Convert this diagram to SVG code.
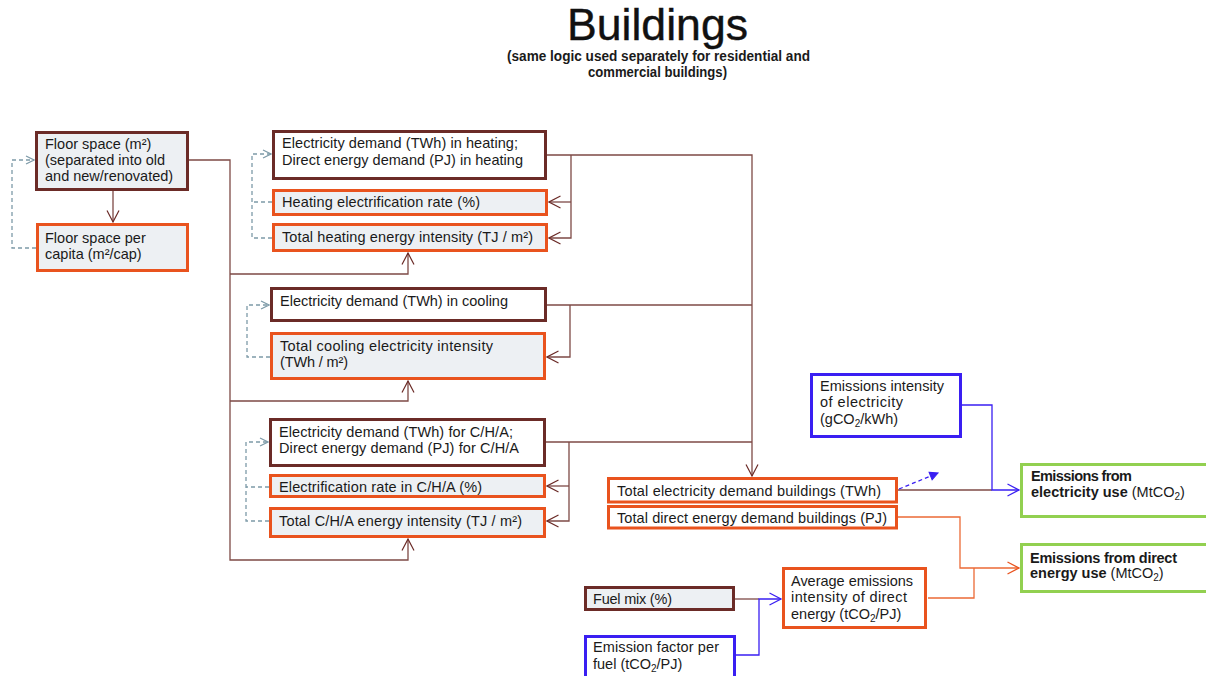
<svg xmlns="http://www.w3.org/2000/svg" width="1206" height="676" viewBox="0 0 1206 676">
<style>
.t{font-family:"Liberation Sans",Arial,sans-serif;font-size:14.5px;fill:#1a1a1a}
.b{font-weight:bold}
.bx{stroke-width:3}
.br{stroke:#6b2b27}
.or{stroke:#e9531e}
.bl{stroke:#3a1ff2}
.gr{stroke:#92d050}
.gy{fill:#edf0f3}
.wh{fill:#ffffff}
.c{fill:none;stroke-width:1.3}
.cb{stroke:#7e4a46}
.cd{stroke:#7d9aa8;stroke-dasharray:4 3}
.cbl{stroke:#3a1ff2}
.co{stroke:#ec6a36}
</style>
<defs>
<marker id="ab" viewBox="0 0 14 14" refX="12.5" refY="7" markerWidth="14" markerHeight="14" markerUnits="userSpaceOnUse" orient="auto"><path d="M1,1 L12.5,7 L1,13" fill="none" stroke="#6b2b27" stroke-width="1.2"/></marker>
<marker id="ag" viewBox="0 0 10 10" refX="9" refY="5" markerWidth="10" markerHeight="10" markerUnits="userSpaceOnUse" orient="auto"><path d="M1,1 L9,5 L1,9" fill="none" stroke="#7d9aa8" stroke-width="1.2"/></marker>
<marker id="abl" viewBox="0 0 14 14" refX="12.5" refY="7" markerWidth="14" markerHeight="14" markerUnits="userSpaceOnUse" orient="auto"><path d="M1,1 L12.5,7 L1,13" fill="none" stroke="#3a1ff2" stroke-width="1.3"/></marker>
<marker id="abs" viewBox="0 0 10 10" refX="9" refY="5" markerWidth="10" markerHeight="10" markerUnits="userSpaceOnUse" orient="auto"><path d="M1,1 L9,5 L1,9 Z" fill="#3a1ff2" stroke="#3a1ff2" stroke-width="1"/></marker>
<marker id="ao" viewBox="0 0 14 14" refX="12.5" refY="7" markerWidth="14" markerHeight="14" markerUnits="userSpaceOnUse" orient="auto"><path d="M1,1 L12.5,7 L1,13" fill="none" stroke="#e9531e" stroke-width="1.3"/></marker>
</defs>

<g id="title">
<text x="657.5" y="40" text-anchor="middle" style="font-family:'Liberation Sans',Arial,sans-serif;font-size:44px;fill:#111;stroke:#111;stroke-width:0.4" textLength="181" lengthAdjust="spacingAndGlyphs">Buildings</text>
<text x="658.5" y="61" text-anchor="middle" class="t b" style="font-size:14.5px" textLength="303" lengthAdjust="spacingAndGlyphs">(same logic used separately for residential and</text>
<text x="657.5" y="77" text-anchor="middle" class="t b" style="font-size:14.5px" textLength="139" lengthAdjust="spacingAndGlyphs">commercial buildings)</text>
</g>

<g id="connectors">
<path class="c cb" d="M113,191 V222" marker-end="url(#ab)"/>
<path class="c cd" d="M36,248 H12 V160 H34" marker-end="url(#ag)"/>
<path class="c cb" d="M189,160 H230 V560 H408 V539" marker-end="url(#ab)"/>
<path class="c cb" d="M230,274 H408 V253" marker-end="url(#ab)"/>
<path class="c cb" d="M230,401 H408 V381" marker-end="url(#ab)"/>
<path class="c cd" d="M272,238 H252 V154 H271" marker-end="url(#ag)"/>
<path class="c cd" d="M272,202 H252"/>
<path class="c cb" d="M547,155 H752 V476" marker-end="url(#ab)"/>
<path class="c cb" d="M571,155 V238 H549" marker-end="url(#ab)"/>
<path class="c cb" d="M571,202 H549" marker-end="url(#ab)"/>
<path class="c cd" d="M270,357 H247 V305 H269" marker-end="url(#ag)"/>
<path class="c cb" d="M547,305 H752"/>
<path class="c cb" d="M570,305 V357 H547" marker-end="url(#ab)"/>
<path class="c cd" d="M269,521 H246 V442 H268" marker-end="url(#ag)"/>
<path class="c cd" d="M269,487 H246"/>
<path class="c cb" d="M546,442 H752"/>
<path class="c cb" d="M569,442 V521 H547" marker-end="url(#ab)"/>
<path class="c cb" d="M569,486 H547" marker-end="url(#ab)"/>
<path class="c cb" d="M898,490 H992"/>
<path class="c cbl" d="M962,405 H992 V490 H1019" marker-end="url(#abl)"/>
<path class="c cbl" d="M899,489 L938,473" stroke-dasharray="4 3" marker-end="url(#abs)"/>
<path class="c co" d="M898,517 H960 V568 H1019" marker-end="url(#ao)"/>
<path class="c co" d="M928,598 H974 V568"/>
<path class="c cb" d="M735,599 H759"/>
<path class="c cbl" d="M736,655 H759 V599 H781" marker-end="url(#abl)"/>
</g>

<g id="floor-space">
<rect class="bx br gy" x="36.5" y="132.5" width="151" height="57"/>
<text class="t" x="45" y="149">Floor space (m²)</text>
<text class="t" x="45" y="165">(separated into old</text>
<text class="t" x="45" y="181">and new/renovated)</text>
</g>
<g id="floor-space-per-capita">
<rect class="bx or gy" x="37.5" y="224.5" width="150" height="46"/>
<text class="t" x="45" y="243">Floor space per</text>
<text class="t" x="45" y="259">capita (m²/cap)</text>
</g>

<g id="heating-demand">
<rect class="bx br wh" x="273.5" y="131.5" width="272" height="47"/>
<text class="t" x="282" y="148" textLength="236" lengthAdjust="spacing">Electricity demand (TWh) in heating;</text>
<text class="t" x="282" y="165" textLength="241" lengthAdjust="spacing">Direct energy demand (PJ) in heating</text>
</g>
<g id="heating-electrification">
<rect class="bx or gy" x="273.5" y="190.5" width="273" height="24"/>
<text class="t" x="282" y="207" textLength="198" lengthAdjust="spacing">Heating electrification rate (%)</text>
</g>
<g id="heating-intensity">
<rect class="bx or gy" x="273.5" y="224.5" width="273" height="26"/>
<text class="t" x="282" y="242" textLength="251" lengthAdjust="spacing">Total heating energy intensity (TJ / m²)</text>
</g>

<g id="cooling-demand">
<rect class="bx br wh" x="271.5" y="288.5" width="274" height="32"/>
<text class="t" x="280" y="306" textLength="228" lengthAdjust="spacing">Electricity demand (TWh) in cooling</text>
</g>
<g id="cooling-intensity">
<rect class="bx or gy" x="271.5" y="333.5" width="273" height="45"/>
<text class="t" x="280" y="351" textLength="213" lengthAdjust="spacing">Total cooling electricity intensity</text>
<text class="t" x="280" y="367" textLength="68" lengthAdjust="spacing">(TWh / m²)</text>
</g>

<g id="cha-demand">
<rect class="bx br wh" x="270.5" y="419.5" width="274" height="46"/>
<text class="t" x="279" y="437" textLength="234" lengthAdjust="spacing">Electricity demand (TWh) for C/H/A;</text>
<text class="t" x="279" y="453" textLength="240" lengthAdjust="spacing">Direct energy demand (PJ) for C/H/A</text>
</g>
<g id="cha-electrification">
<rect class="bx or gy" x="270.5" y="475.5" width="274" height="21"/>
<text class="t" x="279" y="492" textLength="203" lengthAdjust="spacing">Electrification rate in C/H/A (%)</text>
</g>
<g id="cha-intensity">
<rect class="bx or gy" x="270.5" y="508.5" width="274" height="28"/>
<text class="t" x="279" y="526" textLength="243" lengthAdjust="spacing">Total C/H/A energy intensity (TJ / m²)</text>
</g>

<g id="total-electricity">
<rect class="bx or wh" x="608.5" y="478.5" width="288" height="23.5"/>
<text class="t" x="617" y="496" textLength="264" lengthAdjust="spacing">Total electricity demand buildings (TWh)</text>
</g>
<g id="total-direct">
<rect class="bx or wh" x="608.5" y="506.5" width="288" height="21.5"/>
<text class="t" x="617" y="523" textLength="270" lengthAdjust="spacing">Total direct energy demand buildings (PJ)</text>
</g>

<g id="emissions-intensity-electricity">
<rect class="bx bl wh" x="811.5" y="374.5" width="149" height="62"/>
<text class="t" x="820" y="391" textLength="124" lengthAdjust="spacing">Emissions intensity</text>
<text class="t" x="820" y="407" textLength="83" lengthAdjust="spacing">of electricity</text>
<text class="t" x="820" y="424">(gCO<tspan font-size="10" dy="3">2</tspan><tspan dy="-3">/kWh)</tspan></text>
</g>

<g id="emissions-electricity">
<rect class="bx gr wh" x="1021.5" y="464.5" width="200" height="52"/>
<text class="t b" x="1031" y="481" textLength="101" lengthAdjust="spacing">Emissions from</text>
<text class="t" x="1031" y="497"><tspan class="b">electricity use</tspan> (MtCO<tspan font-size="10" dy="3">2</tspan><tspan dy="-3">)</tspan></text>
</g>

<g id="emissions-direct">
<rect class="bx gr wh" x="1021.5" y="544.5" width="200" height="47"/>
<text class="t b" x="1030" y="563" textLength="147" lengthAdjust="spacing">Emissions from direct</text>
<text class="t" x="1030" y="578"><tspan class="b">energy use</tspan> (MtCO<tspan font-size="10" dy="3">2</tspan><tspan dy="-3">)</tspan></text>
</g>

<g id="average-emissions-intensity">
<rect class="bx or wh" x="783.5" y="568.5" width="142" height="59"/>
<text class="t" x="791" y="586" textLength="122" lengthAdjust="spacing">Average emissions</text>
<text class="t" x="791" y="602" textLength="116" lengthAdjust="spacing">intensity of direct</text>
<text class="t" x="791" y="619">energy (tCO<tspan font-size="10" dy="3">2</tspan><tspan dy="-3">/PJ)</tspan></text>
</g>

<g id="fuel-mix">
<rect class="bx br gy" x="585.5" y="587.5" width="148" height="22"/>
<text class="t" x="593" y="604" textLength="79" lengthAdjust="spacing">Fuel mix (%)</text>
</g>

<g id="emission-factor">
<rect class="bx bl wh" x="585.5" y="636.5" width="149" height="50"/>
<text class="t" x="593" y="652" textLength="126" lengthAdjust="spacing">Emission factor per</text>
<text class="t" x="593" y="669">fuel (tCO<tspan font-size="10" dy="3">2</tspan><tspan dy="-3">/PJ)</tspan></text>
</g>
</svg>
